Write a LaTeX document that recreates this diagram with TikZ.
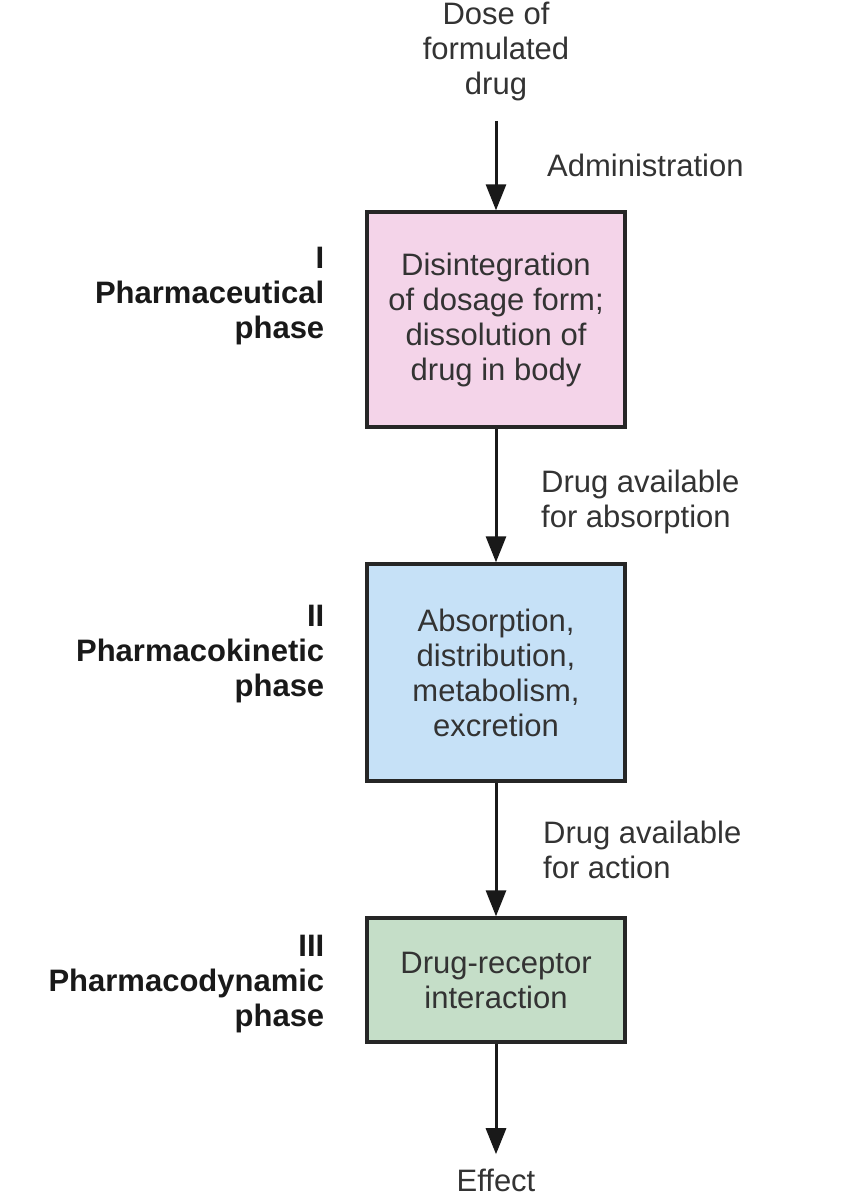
\documentclass[tikz,border=0pt]{standalone}
\usepackage{fontspec}
\setmainfont{Liberation Sans}
\usetikzlibrary{arrows.meta,positioning}

\definecolor{phasepink}{RGB}{244,212,233}
\definecolor{phaseblue}{RGB}{198,225,247}
\definecolor{phasegreen}{RGB}{197,222,200}
\definecolor{textgray}{RGB}{51,51,51}

\tikzset{
  every node/.style={font=\fontsize{15.5}{17.5}\selectfont, text=textgray},
  phasebox/.style={draw=black!85, line width=1.7pt, minimum width=129pt, align=center},
  phaselabel/.style={font=\fontsize{15.5}{17.5}\selectfont\bfseries, text=black!90, align=right, anchor=east},
  steplabel/.style={anchor=west, align=left},
  endpoint/.style={align=center, inner sep=10pt},
}

\begin{document}
\begin{tikzpicture}[>={Triangle[length=13pt,width=10pt]}, node distance=2cm, on grid, auto]
    \useasboundingbox (0,0) rectangle (422pt,-600pt);

    \node[phasebox, fill=phasepink, minimum height=107.5pt]  (pharm) at (248pt,-159.75pt) {Disintegration\\of dosage form;\\dissolution of\\drug in body};
    \node[phasebox, fill=phaseblue, minimum height=108.5pt]  (kin)    [below=176.5pt of pharm] {Absorption,\\distribution,\\metabolism,\\excretion};
    \node[phasebox, fill=phasegreen, minimum height=62pt]    (dyn)    [below=153.75pt of kin]  {Drug-receptor\\interaction};
    \node[endpoint]                                          (dose)   [above=134.25pt of pharm] {Dose of\\formulated\\drug};
    \node[endpoint, inner sep=7pt]                           (effect) [below=100pt of dyn]     {Effect};

    % phase names on the left
    \node[phaselabel] (pharmlbl) at ([xshift=-17pt,yshift=11.75pt]pharm.west) {I\\Pharmaceutical\\phase};
    \node[phaselabel] (kinlbl)   at ([xshift=-17pt,yshift=9.25pt]kin.west)    {II\\Pharmacokinetic\\phase};
    \node[phaselabel] (dynlbl)   at ([xshift=-17pt,yshift=-2pt]dyn.west)      {III\\Pharmacodynamic\\phase};

    \path[->, line width=1.5pt, black!90]
              (dose)  edge node[steplabel, xshift=21.5pt]              {Administration}               (pharm)
              (pharm) edge node[steplabel, xshift=18.5pt, yshift=-3pt] {Drug available\\for absorption} (kin)
              (kin)   edge node[steplabel, xshift=19.5pt]              {Drug available\\for action}     (dyn)
              (dyn)   edge (effect);
\end{tikzpicture}
\end{document}
